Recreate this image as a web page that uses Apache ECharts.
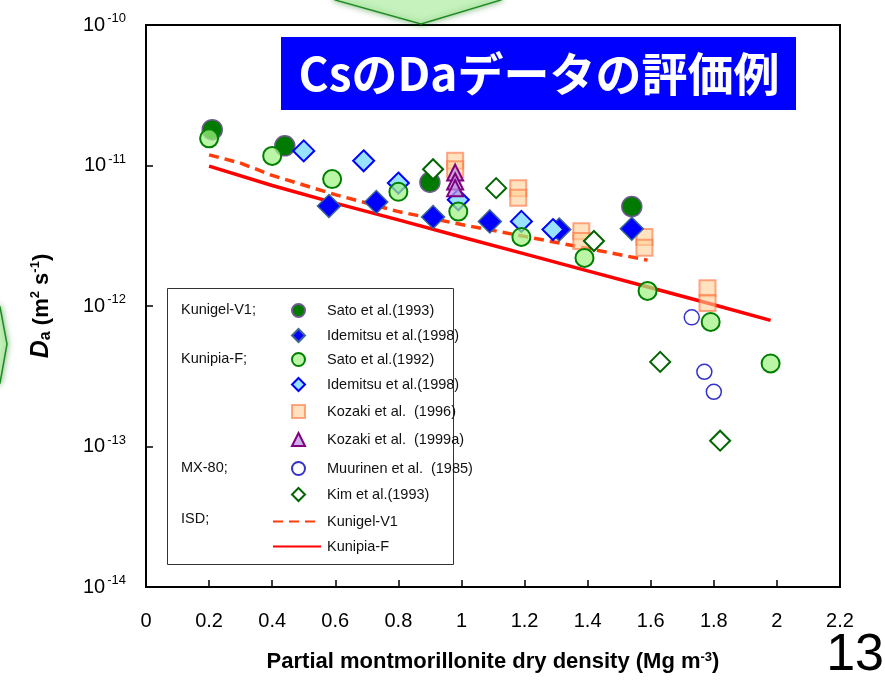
<!DOCTYPE html>
<html>
<head>
<meta charset="utf-8">
<script src="https://cdn.jsdelivr.net/npm/echarts@6/dist/echarts.min.js"></script>
<style>
  html, body { margin: 0; padding: 0; background: #fff; }
  #chart { width: 885px; height: 684px; }
</style>
</head>
<body>
<div id="chart"></div>
<script>
// data: [dry density (Mg m-3), Da (m2 s-1)]
var sato1993 = [[0.21, 1.8e-11], [0.44, 1.38e-11], [0.90, 7.6e-12], [1.54, 5.1e-12]];
var idemitsuV1 = [[0.58, 5.15e-12], [0.73, 5.5e-12], [0.91, 4.3e-12], [1.09, 4.0e-12], [1.31, 3.5e-12], [1.54, 3.55e-12]];
var sato1992 = [[0.20, 1.56e-11], [0.40, 1.17e-11], [0.59, 8.0e-12], [0.80, 6.5e-12], [0.99, 4.7e-12],
                [1.19, 3.1e-12], [1.39, 2.2e-12], [1.59, 1.28e-12], [1.79, 7.7e-13], [1.98, 3.9e-13]];
var idemitsuF = [[0.50, 1.27e-11], [0.69, 1.08e-11], [0.80, 7.5e-12], [0.99, 5.7e-12], [1.19, 4.0e-12], [1.29, 3.5e-12]];
var kozaki1996 = [[0.98, 1.08e-11], [0.98, 9.4e-12], [1.18, 6.9e-12], [1.18, 5.9e-12], [1.38, 3.4e-12],
                  [1.38, 2.9e-12], [1.58, 3.1e-12], [1.58, 2.6e-12], [1.78, 1.34e-12], [1.78, 1.05e-12]];
var kozaki1999a = [[0.98, 8.9e-12], [0.98, 7.7e-12], [0.98, 6.9e-12]];
var muurinen = [[1.73, 8.3e-13], [1.77, 3.4e-13], [1.80, 2.45e-13]];
var kim1993 = [[0.91, 9.4e-12], [1.11, 6.9e-12], [1.42, 2.9e-12], [1.63, 4.0e-13], [1.82, 1.1e-13]];
// ISD model curves
var isdV1 = [[0.2, 1.19e-11], [0.3, 1.04e-11], [0.4, 8.5e-12], [0.6, 6.2e-12], [0.8, 4.7e-12],
             [1.0, 3.8e-12], [1.2, 3.13e-12], [1.4, 2.57e-12], [1.59, 2.12e-12]];
var isdF = [[0.2, 9.9e-12], [0.4, 7.2e-12], [0.6, 5.4e-12], [0.8, 4.1e-12], [1.0, 3.1e-12],
            [1.2, 2.35e-12], [1.4, 1.78e-12], [1.6, 1.35e-12], [1.8, 1.02e-12], [1.98, 7.9e-13]];

var xTickLabels = ['0', '0.2', '0.4', '0.6', '0.8', '1', '1.2', '1.4', '1.6', '1.8', '2', '2.2'];
var legendNames = ['Sato et al.(1993)', 'Idemitsu et al.(1998) ', 'Sato et al.(1992)', 'Idemitsu et al.(1998)',
                   'Kozaki et al.  (1996)', 'Kozaki et al.  (1999a)', 'Muurinen et al.  (1985)', 'Kim et al.(1993)',
                   'Kunigel-V1', 'Kunipia-F'];
var groupLabels = ['Kunigel-V1;', 'Kunipia-F;', 'MX-80;', 'ISD;'];

var FONT = '"Liberation Sans", Arial, sans-serif';
var legendRowY = [310, 335, 359, 384, 411, 439, 468, 494, 521, 546];
var groupRowY = [310, 359, 468, 519];

var chart = echarts.init(document.getElementById('chart'));

var legends = legendNames.map(function (name, i) {
  var isLine = i >= 8;
  var lg = {
    data: [name],
    left: isLine ? 272 : 291,
    top: legendRowY[i] - 7,
    padding: 0,
    itemWidth: isLine ? 48 : 13,
    itemHeight: isLine ? 14 : 13,
    itemGap: 0,
    selectedMode: false,
    textStyle: { fontFamily: FONT, fontSize: 14.5, color: '#111', padding: [0, 0, 0, isLine ? 1 : 17] }
  };
  if (isLine) lg.itemStyle = { opacity: 0 };
  return lg;
});

var graphics = [
  // decorative arrow at the top
  { type: 'polygon', z: 1, shape: { points: [[333, -10], [335, 0], [421, 24], [501, 0], [503, -10]] },
    style: { fill: '#c6f3bd', stroke: '#1f8a1f', lineWidth: 1.5, shadowBlur: 6, shadowColor: 'rgba(0,120,0,0.5)' } },
  // decorative arrow on the left edge
  { type: 'polygon', z: 1, shape: { points: [[-10, 305], [0, 307], [7, 344], [0, 383], [-10, 385]] },
    style: { fill: '#c6f3bd', stroke: '#1f8a1f', lineWidth: 1.5, shadowBlur: 6, shadowColor: 'rgba(0,120,0,0.5)' } },
  // title box
  { type: 'rect', z: 10, shape: { x: 281, y: 37, width: 515, height: 73 }, style: { fill: '#0000ff' } },
  { type: 'text', z: 11, x: 539, y: 74,
    style: { text: 'CsのDaデータの評価例', fill: '#fff', font: 'bold 46px "Noto Sans CJK JP", sans-serif',
             textAlign: 'center', textVerticalAlign: 'middle' } },
  // legend frame
  { type: 'rect', z: 3, shape: { x: 167.5, y: 288.5, width: 286, height: 276 },
    style: { fill: '#fff', stroke: '#333', lineWidth: 1 } },
  // page number
  { type: 'text', z: 5, right: 1, top: 630,
    style: { text: '13', fill: '#000', font: '52px ' + FONT } }
];
groupLabels.forEach(function (t, i) {
  graphics.push({ type: 'text', z: 5, x: 181, y: groupRowY[i],
    style: { text: t, fill: '#111', font: '14.5px ' + FONT, textVerticalAlign: 'middle' } });
});

function scatter(name, data, symbol, size, itemStyle, z) {
  itemStyle.opacity = 1;
  return { name: name, type: 'scatter', data: data, symbol: symbol, symbolSize: size, itemStyle: itemStyle, z: z || 2 };
}

chart.setOption({
  animation: false,
  backgroundColor: '#fff',
  grid: { left: 146, right: 45, top: 25, bottom: 97, show: true, borderColor: '#000', borderWidth: 2 },
  xAxis: {
    type: 'value', min: 0, max: 2.2, interval: 0.2,
    name: 'Partial montmorillonite dry density (Mg m{s|-3})',
    nameLocation: 'middle', nameGap: 64,
    nameTextStyle: {
      fontFamily: FONT, fontSize: 22, fontWeight: 'bold', color: '#000',
      rich: { s: { fontFamily: FONT, fontSize: 13, fontWeight: 'bold', verticalAlign: 'top', padding: [0, 0, 8, 0] } }
    },
    axisLine: { lineStyle: { color: '#000', width: 2 } },
    axisTick: { inside: true, length: 7, lineStyle: { color: '#000', width: 1.5 } },
    axisLabel: {
      margin: 24, fontFamily: FONT, fontSize: 20, color: '#000',
      formatter: function (v) { return xTickLabels[Math.round(v / 0.2)]; }
    },
    splitLine: { show: false }
  },
  yAxis: {
    type: 'log', logBase: 10, min: 1e-14, max: 1e-10,
    name: '{d|D}{a|a}{n| (m}{s|2}{n| s}{s|-1}{n|)}',
    nameLocation: 'middle', nameGap: 92, nameRotate: 90,
    nameTextStyle: {
      rich: {
        d: { fontFamily: FONT, fontSize: 25, fontWeight: 'bold', fontStyle: 'italic', color: '#000' },
        a: { fontFamily: FONT, fontSize: 16, fontWeight: 'bold', color: '#000', verticalAlign: 'bottom', padding: [6, 0, 0, 0] },
        n: { fontFamily: FONT, fontSize: 22, fontWeight: 'bold', color: '#000' },
        s: { fontFamily: FONT, fontSize: 13, fontWeight: 'bold', color: '#000', verticalAlign: 'top', padding: [0, 0, 6, 0] }
      }
    },
    axisLine: { show: true, lineStyle: { color: '#000', width: 2 } },
    axisTick: { show: true, inside: true, length: 7, lineStyle: { color: '#000', width: 1.5 } },
    minorTick: { show: false },
    axisLabel: {
      margin: 20,
      formatter: function (v) { return '{b|10}{e|' + Math.round(Math.log10(v)) + '}'; },
      rich: {
        b: { fontFamily: FONT, fontSize: 20, color: '#000', lineHeight: 26 },
        e: { fontFamily: FONT, fontSize: 13, color: '#000', verticalAlign: 'top', padding: [0, 0, 8, 2] }
      }
    },
    splitLine: { show: false }
  },
  legend: legends,
  graphic: graphics,
  series: [
    { name: 'Kunigel-V1', type: 'line', data: isdV1, symbol: 'none', smooth: false, z: 2,
      lineStyle: { color: '#ff3c0a', width: 3.5, type: [10, 6] }, itemStyle: { color: '#ff3c0a' } },
    { name: 'Kunipia-F', type: 'line', data: isdF, symbol: 'none', z: 2,
      lineStyle: { color: '#ff0000', width: 3.5 }, itemStyle: { color: '#ff0000' } },
    scatter('Kozaki et al.  (1996)', kozaki1996, 'rect', 16,
      { color: 'rgba(255,208,150,0.6)', borderColor: 'rgba(255,110,60,0.6)', borderWidth: 2 }),
    scatter('Sato et al.(1993)', sato1993, 'circle', 20,
      { color: '#007a00', borderColor: '#6e5a8c', borderWidth: 1.5 }),
    scatter('Idemitsu et al.(1998) ', idemitsuV1, 'diamond', 23,
      { color: '#0000ff', borderColor: '#3d6691', borderWidth: 1.5 }),
    scatter('Idemitsu et al.(1998)', idemitsuF, 'diamond', 21,
      { color: '#99e2ff', borderColor: '#0000ff', borderWidth: 2 }),
    scatter('Sato et al.(1992)', sato1992, 'circle', 18,
      { color: 'rgba(160,242,130,0.72)', borderColor: '#008000', borderWidth: 2 }, 3),
    scatter('Kozaki et al.  (1999a)', kozaki1999a, 'triangle', 16,
      { color: 'rgba(190,150,225,0.75)', borderColor: '#800080', borderWidth: 2 }, 3),
    scatter('Muurinen et al.  (1985)', muurinen, 'circle', 15,
      { color: 'rgba(255,255,255,0)', borderColor: '#3333cc', borderWidth: 1.5 }, 3),
    scatter('Kim et al.(1993)', kim1993, 'diamond', 20,
      { color: '#ffffff', borderColor: '#006400', borderWidth: 2 }, 3)
  ]
});
</script>
</body>
</html>
